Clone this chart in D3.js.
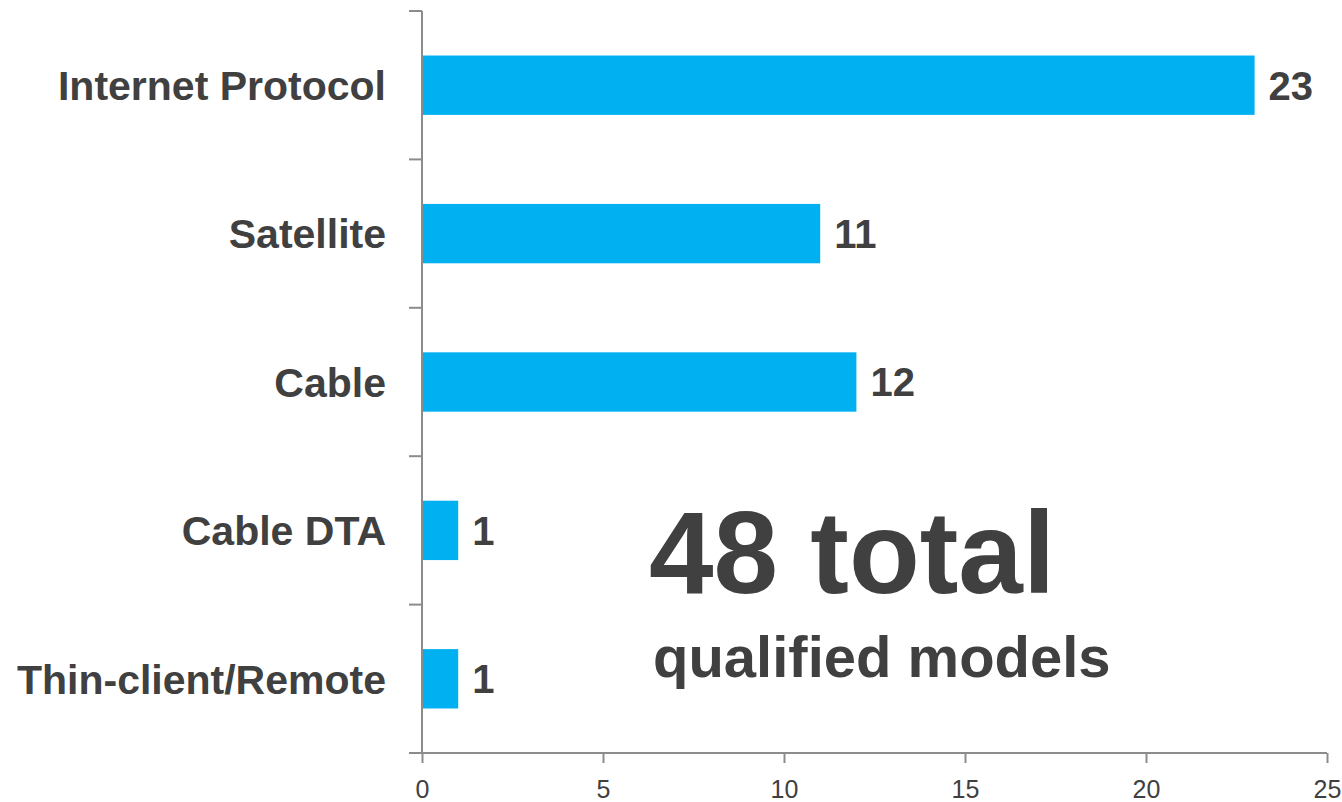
<!DOCTYPE html>
<html>
<head>
<meta charset="utf-8">
<script src="https://cdn.jsdelivr.net/npm/d3@7"></script>
<style>
  body { margin: 0; background: #fff; }
  text { font-family: "Liberation Sans", Arial, sans-serif; }
</style>
</head>
<body>
<div id="chart"></div>
<script>
// data
const categories = ['Internet Protocol', 'Satellite', 'Cable', 'Cable DTA', 'Thin-client/Remote'];
const values = [23, 11, 12, 1, 1];
const xTicks = [0, 5, 10, 15, 20, 25];
const totalLabel = '48 total';
const subLabel = 'qualified models';

const width = 1342;
const height = 802;
const margin = { top: 11, right: 15, bottom: 49, left: 422 };

const svg = d3.select('#chart')
    .append('svg')
    .attr('width', width)
    .attr('height', height);

const x = d3.scaleLinear()
    .domain([0, 25])
    .range([margin.left, width - margin.right]);

const y = d3.scaleBand()
    .domain(categories)
    .range([margin.top, height - margin.bottom])
    .paddingInner(0.6)
    .paddingOuter(0.3);

const axisColor = '#8c8c8c';
const textColor = '#404040';

// bars
svg.append('g')
    .selectAll('rect')
    .data(categories)
    .join('rect')
    .attr('x', x(0))
    .attr('y', d => y(d))
    .attr('width', (d, i) => x(values[i]) - x(0))
    .attr('height', y.bandwidth())
    .attr('fill', '#00b0f0');

// value labels
svg.append('g')
    .selectAll('text')
    .data(categories)
    .join('text')
    .attr('x', (d, i) => x(values[i]) + 14)
    .attr('y', d => y(d) + y.bandwidth() / 2)
    .attr('dy', '0.36em')
    .attr('font-size', 40)
    .attr('font-weight', 'bold')
    .attr('fill', textColor)
    .text((d, i) => values[i]);

// y axis: ticks between categories
const yAxisG = svg.append('g');
yAxisG.append('line')
    .attr('x1', x(0)).attr('x2', x(0))
    .attr('y1', margin.top).attr('y2', height - margin.bottom)
    .attr('stroke', axisColor).attr('stroke-width', 2);
const bounds = d3.range(categories.length + 1).map(i => margin.top + i * (height - margin.top - margin.bottom) / categories.length);
yAxisG.selectAll('.tk')
    .data(bounds)
    .join('line')
    .attr('x1', x(0) - 13).attr('x2', x(0))
    .attr('y1', d => d).attr('y2', d => d)
    .attr('stroke', axisColor).attr('stroke-width', 2);

// category labels
svg.append('g')
    .selectAll('text')
    .data(categories)
    .join('text')
    .attr('x', x(0) - 36)
    .attr('y', d => y(d) + y.bandwidth() / 2)
    .attr('dy', '0.36em')
    .attr('text-anchor', 'end')
    .attr('font-size', 41)
    .attr('font-weight', 'bold')
    .attr('fill', textColor)
    .text(d => d);

// x axis
const xAxis = d3.axisBottom(x)
    .tickValues(xTicks)
    .tickSize(10)
    .tickSizeOuter(0)
    .tickPadding(17);
const xg = svg.append('g')
    .attr('transform', `translate(0,${height - margin.bottom})`)
    .call(xAxis);
xg.select('.domain')
    .attr('d', `M${x(0) - 13},0H${x(25)}`)
    .attr('stroke', axisColor).attr('stroke-width', 2);
xg.selectAll('.tick line').attr('stroke', axisColor).attr('stroke-width', 2);
xg.selectAll('.tick text')
    .attr('font-size', 25)
    .attr('font-family', '"Liberation Sans", Arial, sans-serif')
    .attr('fill', textColor);

// total annotation
svg.append('text')
    .attr('x', 649)
    .attr('y', 593)
    .attr('font-size', 116)
    .attr('font-weight', 'bold')
    .attr('fill', textColor)
    .text(totalLabel);
svg.append('text')
    .attr('x', 653)
    .attr('y', 677)
    .attr('font-size', 58)
    .attr('font-weight', 'bold')
    .attr('fill', textColor)
    .text(subLabel);
</script>
</body>
</html>
